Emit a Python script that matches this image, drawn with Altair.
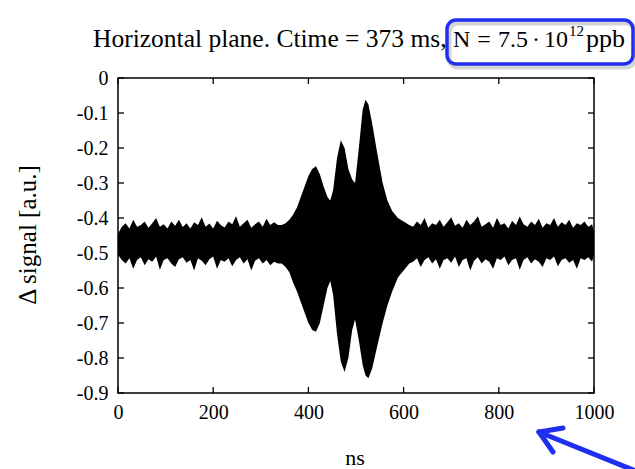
import altair as alt
import pandas as pd

# ---- signal envelope (upper / lower edge of the overlaid turn-by-turn traces) ----
t_left = [0, 8, 16, 24, 32, 40, 48, 56, 64, 72,
          80, 88, 96, 104, 112, 120, 128, 136, 144, 152,
          160, 168, 176, 184, 192, 200, 208, 216, 224, 232,
          240, 248, 256, 264, 272, 280, 288, 296, 304, 312,
          320, 328, 336]
top_left = [-0.445, -0.425, -0.415, -0.43, -0.405, -0.425, -0.42, -0.41, -0.428, -0.415,
            -0.40, -0.425, -0.418, -0.43, -0.41, -0.422, -0.405, -0.426, -0.415, -0.43,
            -0.412, -0.42, -0.398, -0.425, -0.416, -0.43, -0.408, -0.42, -0.427, -0.41,
            -0.418, -0.395, -0.425, -0.415, -0.405, -0.428, -0.418, -0.41, -0.425, -0.402,
            -0.42, -0.412, -0.42]
bot_left = [-0.505, -0.52, -0.53, -0.515, -0.545, -0.52, -0.512, -0.535, -0.518, -0.525,
            -0.51, -0.548, -0.52, -0.515, -0.53, -0.54, -0.518, -0.512, -0.528, -0.52,
            -0.55, -0.515, -0.522, -0.535, -0.518, -0.51, -0.545, -0.52, -0.525, -0.515,
            -0.538, -0.52, -0.512, -0.53, -0.518, -0.55, -0.522, -0.515, -0.53, -0.52,
            -0.535, -0.525, -0.53]

t_mid = [344, 352, 360, 368, 376, 384, 392, 400, 408, 416,
         424, 432, 440, 446, 452, 460, 468, 476, 484, 492,
         498, 506, 514, 520, 526, 534, 544, 556, 566, 576,
         588, 600, 612]
top_mid = [-0.42, -0.415, -0.405, -0.39, -0.37, -0.34, -0.31, -0.28, -0.26, -0.252,
           -0.275, -0.31, -0.34, -0.35, -0.32, -0.23, -0.178, -0.20, -0.26, -0.29,
           -0.30, -0.20, -0.09, -0.062, -0.075, -0.13, -0.21, -0.30, -0.35, -0.38,
           -0.40, -0.41, -0.42]
bot_mid = [-0.53, -0.54, -0.555, -0.585, -0.61, -0.64, -0.67, -0.70, -0.72, -0.725,
           -0.70, -0.65, -0.60, -0.58, -0.62, -0.73, -0.81, -0.84, -0.80, -0.72,
           -0.69, -0.75, -0.82, -0.85, -0.858, -0.83, -0.77, -0.70, -0.65, -0.61,
           -0.57, -0.55, -0.53]

t_right = [620, 628, 636, 644, 652, 660, 668, 676, 684, 692,
           700, 708, 716, 724, 732, 740, 748, 756, 764, 772,
           780, 788, 796, 804, 812, 820, 828, 836, 844, 852,
           860, 868, 876, 884, 892, 900, 908, 916, 924, 932,
           940, 948, 956, 964, 972, 980, 988, 996, 1000]
top_right = [-0.425, -0.41, -0.42, -0.40, -0.428, -0.415, -0.42, -0.405, -0.425, -0.412,
             -0.398, -0.422, -0.415, -0.428, -0.405, -0.42, -0.41, -0.395, -0.425, -0.418,
             -0.41, -0.428, -0.40, -0.42, -0.415, -0.43, -0.408, -0.42, -0.396, -0.418,
             -0.425, -0.41, -0.42, -0.402, -0.428, -0.415, -0.42, -0.40, -0.425, -0.412,
             -0.42, -0.405, -0.428, -0.415, -0.42, -0.41, -0.425, -0.418, -0.44]
bot_right = [-0.525, -0.515, -0.54, -0.52, -0.512, -0.53, -0.518, -0.545, -0.52, -0.515,
             -0.528, -0.51, -0.54, -0.52, -0.515, -0.55, -0.522, -0.512, -0.53, -0.518,
             -0.525, -0.545, -0.515, -0.52, -0.51, -0.535, -0.52, -0.515, -0.548, -0.52,
             -0.512, -0.53, -0.518, -0.525, -0.54, -0.515, -0.52, -0.51, -0.538, -0.52,
             -0.515, -0.528, -0.52, -0.545, -0.515, -0.52, -0.512, -0.525, -0.505]

x_ticks = [0, 200, 400, 600, 800, 1000]
y_ticks = [0, -0.1, -0.2, -0.3, -0.4, -0.5, -0.6, -0.7, -0.8, -0.9]

TITLE_MAIN = "Horizontal plane. Ctime = 373 ms,"
X_TITLE = "ns"
Y_TITLE = "\u0394 signal [a.u.]"

W, H = 476, 315
FONT = "Liberation Serif"
BLUE = "#1f2ff0"

sig = pd.DataFrame({
    "t": t_left + t_mid + t_right,
    "top": top_left + top_mid + top_right,
    "bottom": bot_left + bot_mid + bot_right,
})

xs = alt.Scale(domain=[0, 1000], nice=False, zero=False)
ys = alt.Scale(domain=[-0.9, 0], nice=False, zero=False)

x_axis = alt.Axis(values=x_ticks, title="", ticks=False, domain=False, grid=False,
                  format="d", labelFont=FONT, labelFontSize=20, labelColor="black",
                  labelPadding=9, labelFlush=False, labelOverlap=False)
y_axis = alt.Axis(values=y_ticks, title="", ticks=False, domain=False, grid=False,
                  labelExpr="datum.value == 0 ? '0' : '-' + format(abs(datum.value), '.1f')",
                  labelFont=FONT, labelFontSize=20, labelColor="black", labelPadding=10,
                  labelFlush=False, labelOverlap=False, labelBound=False)

band = alt.Chart(sig).mark_area(color="black", interpolate="linear").encode(
    x=alt.X("t:Q", scale=xs, axis=x_axis),
    y=alt.Y("top:Q", scale=ys, axis=y_axis),
    y2="bottom:Q",
)

# inward tick marks on all four sides (same axis settings so the merged axis keeps them)
ytk = pd.DataFrame({"v": y_ticks})
xtk = pd.DataFrame({"v": x_ticks})
TL = 6
tick_style = dict(color="black", strokeWidth=1.3)
yt_left = alt.Chart(ytk).mark_rule(**tick_style).encode(
    y=alt.Y("v:Q", scale=ys, axis=y_axis), x=alt.value(0), x2=alt.value(TL))
yt_right = alt.Chart(ytk).mark_rule(**tick_style).encode(
    y=alt.Y("v:Q", scale=ys, axis=y_axis), x=alt.value(W - TL), x2=alt.value(W))
xt_bot = alt.Chart(xtk).mark_rule(**tick_style).encode(
    x=alt.X("v:Q", scale=xs, axis=x_axis), y=alt.value(H - TL), y2=alt.value(H))
xt_top = alt.Chart(xtk).mark_rule(**tick_style).encode(
    x=alt.X("v:Q", scale=xs, axis=x_axis), y=alt.value(0), y2=alt.value(TL))

one = pd.DataFrame({"a": [0]})


def label(text, x, y, size, align="left", baseline="alphabetic", angle=0):
    return alt.Chart(one).mark_text(
        text=text, font=FONT, fontSize=size, align=align, baseline=baseline,
        angle=angle, color="black"
    ).encode(x=alt.value(x), y=alt.value(y))


# title: plain part, then the intensity in math-style spacing
title_parts = [
    label(TITLE_MAIN, -25, -31, 25.5),
    label("N", 335, -31, 24),
    label("=", 366, -31, 24, align="center"),
    label("7.5", 380, -31, 24),
    label("\u00b7", 418, -31, 24, align="center"),
    label("10", 426, -31, 24),
    label("12", 451, -42, 15),
    label("ppb", 468, -31, 26),
]

x_title = label(X_TITLE, 237, 380, 22, align="center", baseline="middle")
y_title = label(Y_TITLE, -90, 157, 25, align="center", baseline="middle", angle=270)

shadow = alt.Chart(one).mark_rect(
    fill=None, stroke="#888888", strokeWidth=5, strokeOpacity=0.35, cornerRadius=9
).encode(x=alt.value(331), x2=alt.value(517), y=alt.value(-55), y2=alt.value(-11))
box = alt.Chart(one).mark_rect(
    fill=None, stroke=BLUE, strokeWidth=3.5, cornerRadius=9
).encode(x=alt.value(329), x2=alt.value(515), y=alt.value(-58), y2=alt.value(-14))

arrow_style = dict(color=BLUE, strokeWidth=5, strokeCap="round")
shaft = alt.Chart(one).mark_rule(**arrow_style).encode(
    x=alt.value(421), y=alt.value(354), x2=alt.value(525), y2=alt.value(396))
arm1 = alt.Chart(one).mark_rule(**arrow_style).encode(
    x=alt.value(421), y=alt.value(354), x2=alt.value(445), y2=alt.value(350))
arm2 = alt.Chart(one).mark_rule(**arrow_style).encode(
    x=alt.value(421), y=alt.value(354), x2=alt.value(435), y2=alt.value(374))

chart = alt.layer(
    band, yt_left, yt_right, xt_bot, xt_top, *title_parts, x_title, y_title,
    shadow, box, shaft, arm1, arm2
).properties(
    width=W, height=H,
    autosize=alt.AutoSizeParams(type="none"),
    padding={"left": 118, "top": 78, "right": 41, "bottom": 76},
    background="white",
).configure_view(stroke="black", strokeWidth=1.5)

chart.save("out.html", embed_options={"renderer": "svg", "actions": False})
